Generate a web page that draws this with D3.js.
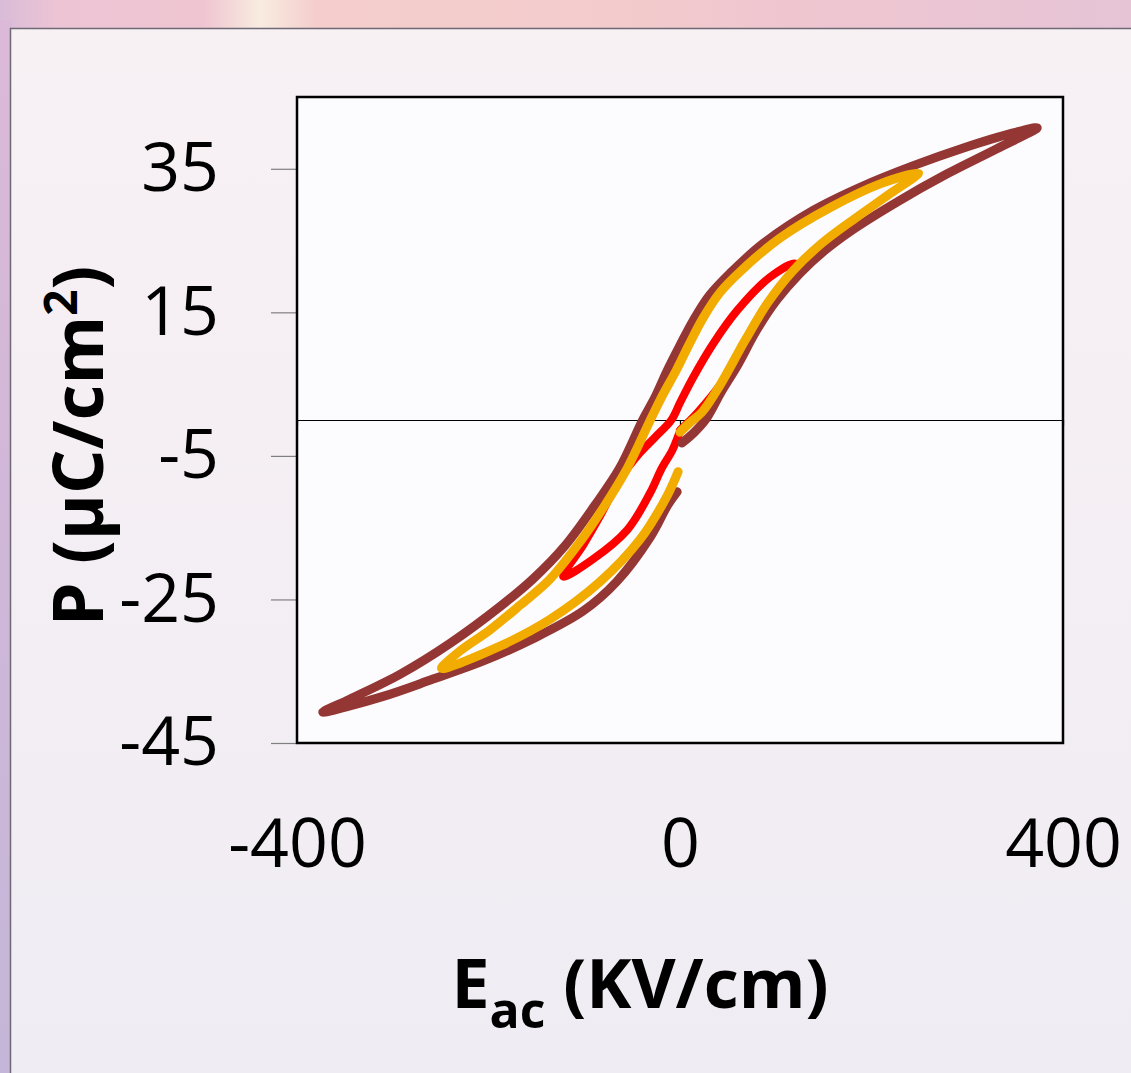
<!DOCTYPE html>
<html>
<head>
<meta charset="utf-8">
<script src="https://cdn.jsdelivr.net/npm/d3@7.9.0/dist/d3.min.js"></script>
<style>
  html, body { margin: 0; padding: 0; overflow: hidden; background: #f4eef3; }
  svg { display: block; }
</style>
</head>
<body>
<svg id="chart" width="1131" height="1073"></svg>
<script>
// hysteresis loops: E in kV/cm, P in uC/cm2
const brownE = [2, 15, 28, 43, 60, 80, 101, 125, 151, 178, 227, 279, 331, 373,
  348, 296, 243, 191, 139, 87, 52, 31, 14, 0, -14, -26, -39, -63, -89, -120, -154, -188, -240, -292, -345, -373,
  -310, -258, -206, -154, -101, -66, -31, -13, -3];
const brownP = [-3.2, -1.7, 0.3, 3.9, 7.6, 12.5, 16.7, 20.4, 23.6, 26.3, 30.4, 34.3, 37.8, 40.7,
  40.0, 37.9, 35.4, 32.6, 29.2, 24.6, 20.4, 17.4, 13.9, 10.4, 6.7, 3.2, 0, -6.7, -11.9, -17.5, -22.2, -26.0, -31.1, -35.4, -38.9, -40.7,
  -38.5, -36.1, -33.6, -30.5, -26.6, -22.5, -16.3, -11.9, -10.0];

const yellowE = [0, 10, 23, 42, 68, 92, 118, 148, 183, 219, 249,
  209, 157, 104, 63, 42, 24, 9, -4, -18, -31, -55, -80, -104, -136, -167, -198, -230, -249,
  -188, -136, -84, -42, -14, -2];
const yellowP = [-1.7, -0.4, 1.1, 4.9, 11.1, 16.4, 20.8, 24.6, 28.1, 31.5, 34.4,
  32.9, 29.6, 25.3, 20.7, 17.8, 14.2, 10.4, 6.9, 3.5, 0, -6.7, -12.2, -16.9, -22.2, -25.8, -29.2, -32.2, -34.6,
  -31.5, -27.8, -22.6, -16.7, -10.7, -7.2];

const redE = [0, 18, 44, 73, 99, 120,
  94, 60, 35, 14, 0, -9, -26, -42, -63, -84, -101, -122,
  -91, -55, -31, -19, -8, -1];
const redP = [-1.4, 1.0, 5.3, 11.9, 17.2, 21.8,
  19.9, 15.3, 10.7, 6.0, 2.4, 0, -2.4, -4.6, -8.3, -13.5, -17.4, -21.8,
  -19.4, -15.3, -10.1, -6.7, -4.2, -1.9];

const yTicks = [35, 15, -5, -25, -45];
const xTicks = [-400, 0, 400];

const svg = d3.select('#chart');
const defs = svg.append('defs');

// background: window strip on top, purple edge on the left, pale panel
let topGrad = defs.append('linearGradient').attr('id', 'topGrad');
[['0%', '#d9bcd8'], ['5%', '#ecc4d4'], ['18%', '#efc5d1'], ['23%', '#f8ece0'],
 ['28%', '#f4cdcc'], ['55%', '#f3cbcc'], ['70%', '#efc6d0'], ['100%', '#e6c4d6']]
  .forEach(([o, c]) => topGrad.append('stop').attr('offset', o).attr('stop-color', c));
let leftGrad = defs.append('linearGradient').attr('id', 'leftGrad')
  .attr('x1', 0).attr('y1', 0).attr('x2', 0).attr('y2', 1);
leftGrad.append('stop').attr('offset', '0%').attr('stop-color', '#dcb9d8');
leftGrad.append('stop').attr('offset', '100%').attr('stop-color', '#c4b6d8');
let panelGrad = defs.append('linearGradient').attr('id', 'panelGrad')
  .attr('x1', 0).attr('y1', 0).attr('x2', 0).attr('y2', 1);
panelGrad.append('stop').attr('offset', '0%').attr('stop-color', '#f8f1f4');
panelGrad.append('stop').attr('offset', '100%').attr('stop-color', '#efecf3');

svg.append('rect').attr('width', 1131).attr('height', 1073).attr('fill', 'url(#topGrad)');
svg.append('rect').attr('y', 20).attr('width', 12).attr('height', 1053).attr('fill', 'url(#leftGrad)');
svg.append('rect').attr('x', 10.5).attr('y', 28.5).attr('width', 1140).attr('height', 1060)
  .attr('fill', 'url(#panelGrad)').attr('stroke', '#6d6a76').attr('stroke-width', 1.5);

const x = d3.scaleLinear().domain([-400, 400]).range([297, 1063]);
const y = d3.scaleLinear().domain([-45, 45]).range([743, 97]);

// plot area
svg.append('rect')
  .attr('x', x(-400)).attr('y', y(45))
  .attr('width', x(400) - x(-400)).attr('height', y(-45) - y(45))
  .attr('fill', '#fcfbfd');

// y axis ticks and labels
let yAxis = svg.append('g')
  .attr('transform', `translate(${x(-400)},0)`)
  .call(d3.axisLeft(y).tickValues(yTicks).tickSize(26).tickPadding(52).tickFormat(d3.format('d')));
yAxis.select('.domain').remove();
yAxis.selectAll('line').attr('stroke', '#7f7f7f').attr('stroke-width', 1.2);
yAxis.selectAll('text')
  .attr('font-family', '"Open Sans", sans-serif').attr('font-size', 68).attr('fill', '#000')
  .text(d => d < 0 ? '-' + Math.abs(d) : d);

// zero line with its small ticks
let zeroAxis = svg.append('g')
  .attr('transform', `translate(0,${y(0)})`)
  .call(d3.axisBottom(x).tickValues(xTicks).tickSize(6).tickSizeOuter(0).tickFormat(''));
zeroAxis.selectAll('path, line').attr('stroke', '#000').attr('stroke-width', 1.2);

// x labels sit under the plot
let xAxis = svg.append('g')
  .attr('transform', `translate(0,${y(-45)})`)
  .call(d3.axisBottom(x).tickValues(xTicks).tickSize(0).tickPadding(76));
xAxis.select('.domain').remove();
xAxis.selectAll('text')
  .attr('font-family', '"Open Sans", sans-serif').attr('font-size', 68).attr('fill', '#000')
  .text(d => d < 0 ? '-' + Math.abs(d) : d);

// loops
const line = d3.line()
  .x(d => x(d[0]))
  .y(d => y(d[1]))
  .curve(d3.curveCatmullRom.alpha(0.5));

const loops = [
  { e: redE, p: redP, color: '#ff0000', w: 8 },
  { e: brownE, p: brownP, color: '#943634', w: 9 },
  { e: yellowE, p: yellowP, color: '#f2ac00', w: 9 },
];
loops.forEach(l => {
  let pts = l.e.map((v, i) => [v, l.p[i]]);
  svg.append('path')
    .attr('d', line(pts))
    .attr('fill', 'none')
    .attr('stroke', l.color)
    .attr('stroke-width', l.w)
    .attr('stroke-linecap', 'round')
    .attr('stroke-linejoin', 'round');
});

// plot border
svg.append('rect')
  .attr('x', x(-400)).attr('y', y(45))
  .attr('width', x(400) - x(-400)).attr('height', y(-45) - y(45))
  .attr('fill', 'none').attr('stroke', '#000').attr('stroke-width', 2.5);

// axis titles
let xt = svg.append('text')
  .attr('x', 640).attr('y', 1008)
  .attr('text-anchor', 'middle')
  .attr('font-family', '"Open Sans", sans-serif').attr('font-weight', 'bold').attr('font-size', 68)
  .attr('fill', '#000');
xt.append('tspan').text('E');
xt.append('tspan').attr('font-size', 50).attr('dy', 20).text('ac');
xt.append('tspan').attr('dy', -20).text(' (KV/cm)');

let yt = svg.append('text')
  .attr('transform', 'translate(103,446) rotate(-90)')
  .attr('text-anchor', 'middle')
  .attr('font-family', '"Open Sans", sans-serif').attr('font-weight', 'bold').attr('font-size', 70)
  .attr('fill', '#000');
yt.append('tspan').text('P (µC/cm');
yt.append('tspan').attr('font-size', 46).attr('dy', -26).text('2');
yt.append('tspan').attr('dy', 26).text(')');
</script>
</body>
</html>
